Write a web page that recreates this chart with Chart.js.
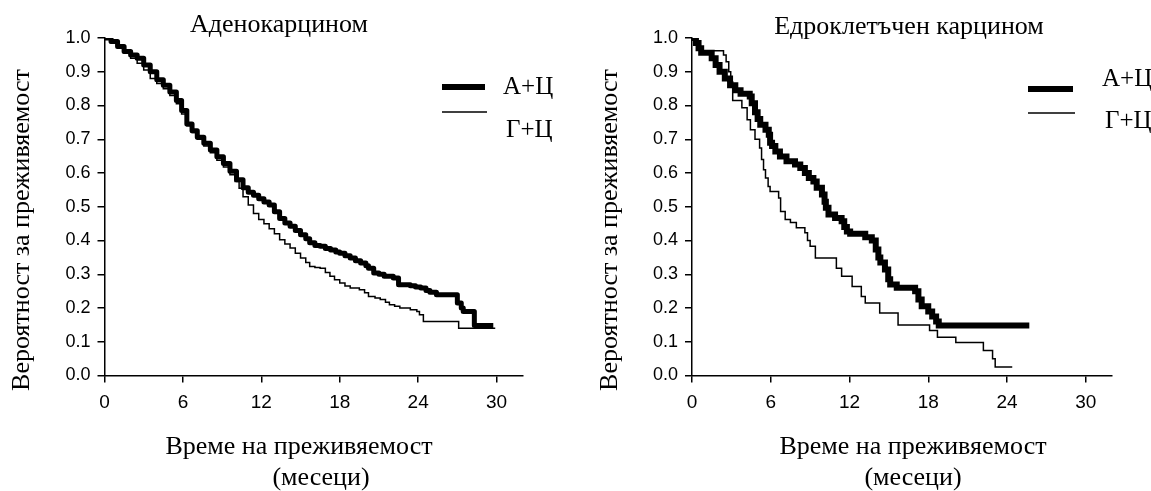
<!DOCTYPE html>
<html>
<head>
<meta charset="utf-8">
<script src="https://cdn.jsdelivr.net/npm/chart.js@4.4.1/dist/chart.umd.min.js"></script>
<style>
  html, body { margin: 0; padding: 0; background: #fff; }
  #wrap { position: relative; width: 1151px; height: 491px; }
  canvas { position: absolute; top: 0; }
  #adeno { left: 0; }
  #large { left: 575px; }
</style>
</head>
<body>
<div id="wrap">
  <canvas id="adeno" width="575" height="491"></canvas>
  <canvas id="large" width="576" height="491"></canvas>
</div>
<script>
const seriesNames = ["А+Ц", "Г+Ц"];
const xTicks = [0, 6, 12, 18, 24, 30];
const yTicks = [0, 0.1, 0.2, 0.3, 0.4, 0.5, 0.6, 0.7, 0.8, 0.9, 1.0];
const yTitle = "Вероятност за преживяемост";
const xTitle = ["Време на преживяемост", "(месеци)"];

// Аденокарцином
const adenoMonthsAC = [0,0.5,1.0,1.5,2.0,2.5,3.0,3.5,4.0,4.5,5.0,5.5,5.9,6.3,6.7,7.1,7.6,8.1,8.6,9.1,9.6,10.1,10.6,11.0,11.4,11.8,12.2,12.6,13.0,13.4,13.8,14.2,14.6,15.0,15.4,15.7,16.1,16.5,16.9,17.3,17.7,18.0,18.4,18.8,19.2,19.6,20.0,20.2,20.6,21.0,21.4,22.1,22.5,23.4,23.8,24.2,24.6,24.9,25.4,27.0,27.3,27.45,28.3,29.75];
const adenoSurvAC = [1.0,0.99,0.975,0.96,0.95,0.94,0.92,0.90,0.876,0.86,0.84,0.815,0.785,0.745,0.725,0.706,0.688,0.668,0.648,0.628,0.605,0.58,0.556,0.543,0.534,0.524,0.514,0.505,0.485,0.465,0.452,0.442,0.43,0.417,0.405,0.393,0.385,0.383,0.376,0.372,0.366,0.362,0.355,0.348,0.34,0.333,0.325,0.318,0.304,0.30,0.294,0.289,0.269,0.266,0.262,0.259,0.252,0.247,0.239,0.215,0.2,0.19,0.148,0.148];
const adenoMonthsGC = [0,0.5,1.0,1.5,2.0,2.5,3.0,3.5,4.0,4.5,5.0,5.5,5.9,6.3,6.7,7.1,7.6,8.1,8.6,9.1,9.6,10.0,10.3,10.6,11.0,11.4,11.8,12.2,12.6,13.0,13.4,13.8,14.2,14.6,15.0,15.4,15.7,16.1,16.5,16.9,17.25,17.6,18.0,18.4,18.8,19.5,19.9,20.2,20.7,21.1,21.5,21.8,22.2,22.6,23.4,23.9,24.1,24.4,27.1,29.9];
const adenoSurvGC = [1.0,0.985,0.97,0.955,0.94,0.925,0.905,0.88,0.865,0.85,0.83,0.805,0.775,0.74,0.72,0.70,0.68,0.66,0.638,0.618,0.595,0.575,0.555,0.53,0.505,0.48,0.462,0.45,0.435,0.42,0.402,0.39,0.378,0.362,0.348,0.335,0.323,0.32,0.318,0.305,0.294,0.284,0.274,0.265,0.259,0.254,0.245,0.234,0.23,0.225,0.217,0.21,0.205,0.2,0.195,0.19,0.18,0.16,0.14,0.14];

// Едроклетъчен карцином
const largeMonthsAC = [0,0.3,0.5,0.7,1.5,1.8,2.1,2.5,2.9,3.3,3.7,4.4,4.55,4.8,5.0,5.2,5.6,5.85,5.95,6.1,6.35,6.7,7.2,7.85,8.25,8.6,8.9,9.25,9.5,9.9,10.1,10.2,10.4,10.9,11.4,11.6,11.8,12.05,13.2,13.7,14.0,14.2,14.35,14.7,14.95,15.1,15.6,17.0,17.25,17.5,18.0,18.3,18.6,18.8,25.7];
const largeSurvAC = [1.0,0.985,0.97,0.956,0.94,0.92,0.90,0.88,0.86,0.845,0.835,0.827,0.807,0.78,0.76,0.743,0.728,0.713,0.69,0.68,0.664,0.649,0.635,0.625,0.615,0.60,0.585,0.575,0.556,0.536,0.515,0.497,0.477,0.467,0.457,0.44,0.427,0.42,0.41,0.40,0.373,0.35,0.335,0.314,0.285,0.27,0.26,0.25,0.225,0.205,0.19,0.175,0.16,0.148,0.148];
const largeMonthsGC = [0,0.3,0.6,2.4,2.6,2.8,2.95,3.1,3.8,4.2,4.45,4.8,5.15,5.3,5.45,5.6,5.8,5.95,6.6,6.75,7.1,7.5,7.95,8.6,8.8,9.0,9.4,11.0,11.4,12.2,12.9,13.2,14.3,15.7,18.1,18.7,20.1,22.2,22.9,23.1,24.4];
const largeSurvGC = [1.0,0.98,0.962,0.95,0.93,0.90,0.87,0.815,0.793,0.758,0.728,0.70,0.674,0.64,0.61,0.585,0.56,0.545,0.526,0.486,0.462,0.453,0.438,0.423,0.40,0.383,0.348,0.318,0.294,0.264,0.234,0.215,0.185,0.15,0.133,0.113,0.098,0.074,0.05,0.025,0.025];

const serif = '"Liberation Serif", "Times New Roman", serif';
const sans = '"Liberation Sans", Arial, sans-serif';

function toPoints(xs, ys) {
  return xs.map((x, i) => ({ x: x, y: ys[i] }));
}

// titles, axis titles and legend are placed by hand
const panelText = {
  id: 'panelText',
  afterDraw(chart, args, o) {
    const ctx = chart.ctx;
    ctx.save();
    ctx.fillStyle = '#000';
    ctx.strokeStyle = '#000';
    ctx.textAlign = 'center';
    ctx.textBaseline = 'middle';
    ctx.font = '26px ' + serif;
    ctx.fillText(o.title, o.titleX, o.titleY);
    ctx.fillText(xTitle[0], o.xTitleX[0], o.xTitleY[0]);
    ctx.fillText(xTitle[1], o.xTitleX[1], o.xTitleY[1]);

    ctx.save();
    ctx.translate(o.yTitleX, o.yTitleY);
    ctx.rotate(-Math.PI / 2);
    ctx.fillText(yTitle, 0, 0);
    ctx.restore();

    // legend
    const lg = o.legend;
    ctx.font = '25px ' + serif;
    ctx.lineCap = 'butt';
    ctx.lineWidth = 6;
    ctx.beginPath();
    ctx.moveTo(lg.x1, lg.thickY);
    ctx.lineTo(lg.x2, lg.thickY);
    ctx.stroke();
    ctx.lineWidth = 1.5;
    ctx.beginPath();
    ctx.moveTo(lg.x1, lg.thinY);
    ctx.lineTo(lg.x2 + 2, lg.thinY);
    ctx.stroke();
    ctx.textAlign = 'left';
    ctx.fillText(seriesNames[0], lg.textX[0], lg.textY[0]);
    ctx.fillText(seriesNames[1], lg.textX[1], lg.textY[1]);
    ctx.restore();
  }
};

function buildChart(id, acX, acY, gcX, gcY, thick, join, pad, text) {
  return new Chart(document.getElementById(id), {
    type: 'line',
    data: {
      datasets: [
        {
          label: seriesNames[0],
          data: toPoints(acX, acY),
          borderColor: '#000',
          borderWidth: thick,
          stepped: true,
          pointRadius: 0,
          borderJoinStyle: join,
          fill: false
        },
        {
          label: seriesNames[1],
          data: toPoints(gcX, gcY),
          borderColor: '#000',
          borderWidth: 1.5,
          stepped: true,
          pointRadius: 0,
          fill: false
        }
      ]
    },
    options: {
      responsive: false,
      animation: false,
      events: [],
      layout: { padding: pad },
      plugins: {
        legend: { display: false },
        tooltip: { enabled: false },
        title: { display: false },
        panelText: text
      },
      scales: {
        x: {
          type: 'linear',
          min: 0,
          max: 32,
          afterFit: s => { s.height = 40; },
          afterBuildTicks: s => { s.ticks = xTicks.map(v => ({ value: v })); },
          grid: { drawOnChartArea: false, drawTicks: true, tickLength: 7, color: '#000', lineWidth: 1.5 },
          border: { display: true, color: '#000', width: 1.5 },
          ticks: { color: '#000', padding: 9, maxRotation: 0, font: { family: sans, size: 19 } }
        },
        y: {
          type: 'linear',
          min: 0,
          max: 1,
          afterFit: s => { s.width = pad.yAxisWidth; },
          afterBuildTicks: s => { s.ticks = yTicks.map(v => ({ value: v })); },
          grid: { drawOnChartArea: false, drawTicks: true, tickLength: 7, color: '#000', lineWidth: 1.5 },
          border: { display: true, color: '#000', width: 1.5 },
          ticks: { color: '#000', padding: 7, font: { family: sans, size: 18 }, callback: v => v.toFixed(1) }
        }
      }
    },
    plugins: [panelText]
  });
}

buildChart('adeno', adenoMonthsAC, adenoSurvAC, adenoMonthsGC, adenoSurvGC, 5, 'round',
  { left: 0, top: 38, right: 52.3, bottom: 75.5, yAxisWidth: 104.5 },
  {
    title: 'Аденокарцином', titleX: 279, titleY: 25,
    xTitleX: [299, 321], xTitleY: [447, 478],
    yTitleX: 22, yTitleY: 230,
    legend: { x1: 442, x2: 485, thickY: 87, thinY: 112, textX: [503, 506], textY: [87, 130] }
  });

buildChart('large', largeMonthsAC, largeSurvAC, largeMonthsGC, largeSurvGC, 6, 'miter',
  { left: 0, top: 38, right: 39, bottom: 75.5, yAxisWidth: 117 },
  {
    title: 'Едроклетъчен карцином', titleX: 334, titleY: 27,
    xTitleX: [338, 338], xTitleY: [447, 478],
    yTitleX: 35, yTitleY: 230,
    legend: { x1: 453, x2: 498, thickY: 89, thinY: 113, textX: [527, 530], textY: [79, 121] }
  });
</script>
</body>
</html>
